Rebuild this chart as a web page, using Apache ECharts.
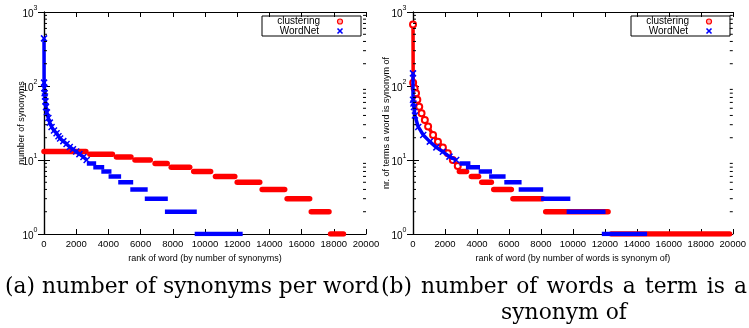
<!DOCTYPE html>
<html><head><meta charset="utf-8">
<script src="https://cdn.jsdelivr.net/npm/echarts@6/dist/echarts.min.js"></script>
<style>html,body{margin:0;padding:0;background:#fff}#c{width:749px;height:328px}</style>
</head><body><div id="c"></div>
<script>
// ---------- axis ticks ----------
const xTickMin = 0, xTickMax = 20000, xTickStep = 2000;
const yMin = 1, yMax = 1000;
const minorTickValues = [2,3,4,5,6,7,8,9,20,30,40,50,60,70,80,90,200,300,400,500,600,700,800,900];

// ---------- (a) number of synonyms per word ----------
const clusteringA_levels = [13,12,11,10,9,8,7,6,5,4,3,2,1];
const clusteringA_from   = [0,2850,4500,5650,6900,7900,9300,10650,12000,13550,15100,16600,17800];
const clusteringA_to     = [2600,4250,5400,6600,7650,9050,10350,11850,13400,14950,16500,17700,18600];

const wordnetA_curveRank  = [0,5,20,40,60,90,124,180,270,360,470,620,780,900,1000,1200,1400,1600,1800,2000,2200,2450,2650];
const wordnetA_curveValue = [440,111,93,80,72,62,52,44,37,32,28,25,23,21,19.5,18,16.5,15,14,13,12,11,10];
const wordnetA_levels = [9,8,7,6,5,4,3,2,1];
const wordnetA_from   = [2800,3200,3700,4150,4750,5500,6400,7650,9500];
const wordnetA_to     = [3100,3600,4050,4650,5400,6300,7550,9350,12200];

// ---------- (b) number of words a term is a synonym of ----------
const clusteringB_curveRank  = [0,10,100,190,270,390,535,740,945,1255,1560,1870,2180,2490,2800];
const clusteringB_curveValue = [680,111,93,80,65,52.5,42.7,34.8,28.3,21.8,17.7,14.8,12.3,10,8.3];
const clusteringB_levels = [7,6,5,4,3,2,1];
const clusteringB_from   = [2900,3650,4300,5050,6250,8300,12400];
const clusteringB_to     = [3350,4100,4900,6150,8100,12200,19800];

const wordnetB_curveRank  = [0,0,30,60,120,330,640,1050,1460,1870,2280,2700];
const wordnetB_curveValue = [148,65,58,52,40,28,21.8,17.7,14.8,12.9,11.1,10];
const wordnetB_levels = [9,8,7,6,5,4,3,2,1];
const wordnetB_from   = [3050,3450,4250,4900,5850,6750,8150,9750,11950];
const wordnetB_to     = [3450,4050,4800,5650,6650,8000,9700,11900,14500];

// ---------- text ----------
const xNameA = 'rank of word (by number of synonyms)';
const yNameA = 'number of synonyms';
const xNameB = 'rank of word (by number of words is synonym of)';
const yNameB = 'nr. of terms a word is synonym of';
const legendNames = ['clustering', 'WordNet'];
const captionA = '(a) number of synonyms per word';
const captionB1 = ['(b)','number','of','words','a','term','is','a'];
const captionB2 = 'synonym of';

const RED = '#ff0000', BLUE = '#0000ff';
const XPATH = 'path://M0,0L10,10M10,0L0,10';
const FONT = 'Liberation Sans';
const CAPFONT = '21.8px "DejaVu Serif"';

function xAxes(gi, name) {
  const common = {
    type: 'value', gridIndex: gi, min: xTickMin, max: xTickMax, interval: xTickStep,
    axisLine: { lineStyle: { color: '#000', width: 1.2 } },
    axisTick: { inside: true, length: 5, lineStyle: { color: '#000' } },
    splitLine: { show: false }
  };
  return [
    Object.assign({}, common, {
      position: 'bottom',
      axisLabel: { color: '#000', fontSize: 9.5, fontFamily: FONT, margin: 5, formatter: v => String(v) },
      name: name, nameLocation: 'middle', nameGap: 19,
      nameTextStyle: { color: '#000', fontSize: 9, fontFamily: FONT }
    }),
    Object.assign({}, common, { position: 'top', axisLabel: { show: false } })
  ];
}
function yAxes(gi, name, gap) {
  const common = {
    type: 'log', logBase: 10, gridIndex: gi, min: yMin, max: yMax,
    axisLine: { lineStyle: { color: '#000', width: 1.2 } },
    axisTick: { inside: true, length: 6, lineStyle: { color: '#000' } },
    splitLine: { show: false }, minorTick: { show: false }
  };
  return [
    Object.assign({}, common, {
      position: 'left',
      axisLabel: {
        color: '#000', margin: 6.5,
        formatter: v => '{b|10}{s|' + Math.round(Math.log10(v)) + '}',
        rich: {
          b: { fontSize: 10, fontFamily: FONT, lineHeight: 15, verticalAlign: 'bottom', color: '#000' },
          s: { fontSize: 7, fontFamily: FONT, lineHeight: 15, verticalAlign: 'top', color: '#000' }
        }
      },
      name: name, nameLocation: 'middle', nameGap: gap, nameRotate: 90, nameMoveOverlap: false,
      nameTextStyle: { color: '#000', fontSize: 9, fontFamily: FONT }
    }),
    Object.assign({}, common, { position: 'right', axisLabel: { show: false } })
  ];
}

const series = [];
function bands(name, levels, from, to, color, xi, yi, cap, width, z) {
  levels.forEach((lv, i) => {
    series.push({
      type: 'line', name: name, xAxisIndex: xi, yAxisIndex: yi, z: z,
      data: [[from[i], lv], [to[i], lv]], symbol: 'none', silent: true,
      lineStyle: { color: color, width: width, cap: cap }, itemStyle: { color: color }
    });
  });
}
function curve(name, ranks, values, color, xi, yi, symbol, z) {
  series.push({
    type: 'line', name: name, xAxisIndex: xi, yAxisIndex: yi, z: z,
    data: ranks.map((r, i) => [r, values[i]]),
    symbol: symbol, symbolSize: 6, showAllSymbol: true, silent: true,
    lineStyle: { color: color, width: 3.5 },
    itemStyle: symbol === 'emptyCircle'
      ? { color: color, borderColor: color, borderWidth: 1 }
      : { color: color, borderColor: color, borderWidth: 1.5 }
  });
}
function minorTicks(xi, yi) {
  series.push({
    type: 'custom', xAxisIndex: xi, yAxisIndex: yi, silent: true, z: 10,
    data: minorTickValues.map(v => [xTickMin, v]), encode: { x: 0, y: 1 },
    renderItem: (params, api) => {
      const L = api.coord([xTickMin, api.value(1)]);
      const R = api.coord([xTickMax, api.value(1)]);
      return { type: 'group', children: [
        { type: 'line', shape: { x1: L[0], y1: L[1], x2: L[0] + 3, y2: L[1] }, style: { stroke: '#000', lineWidth: 1 } },
        { type: 'line', shape: { x1: R[0] - 3, y1: R[1], x2: R[0], y2: R[1] }, style: { stroke: '#000', lineWidth: 1 } }
      ]};
    }
  });
}

// chart (a)
bands('clustering', clusteringA_levels, clusteringA_from, clusteringA_to, RED, 0, 0, 'round', 5.5, 2);
curve('WordNet', wordnetA_curveRank, wordnetA_curveValue, BLUE, 0, 0, XPATH, 3);
bands('WordNet', wordnetA_levels, wordnetA_from, wordnetA_to, BLUE, 0, 0, 'square', 4.5, 3);
minorTicks(0, 0);
// chart (b)
curve('clustering', clusteringB_curveRank, clusteringB_curveValue, RED, 2, 2, 'emptyCircle', 2);
bands('clustering', clusteringB_levels, clusteringB_from, clusteringB_to, RED, 2, 2, 'round', 5.5, 2);
curve('WordNet', wordnetB_curveRank, wordnetB_curveValue, BLUE, 2, 2, XPATH, 3);
bands('WordNet', wordnetB_levels, wordnetB_from, wordnetB_to, BLUE, 2, 2, 'square', 4.5, 3);
minorTicks(2, 2);

// legend boxes (drawn as graphics): box left edges per chart
const graphics = [];
[262, 631].forEach(bx => {
  graphics.push({ type: 'rect', shape: { x: bx, y: 16, width: 99, height: 20 }, style: { fill: 'none', stroke: '#000', lineWidth: 1 }, z: 5 });
  graphics.push({ type: 'text', x: bx + 58, y: 21.5, style: { text: legendNames[0], font: '10px "' + FONT + '"', fill: '#000', align: 'right', verticalAlign: 'middle' }, z: 5 });
  graphics.push({ type: 'text', x: bx + 57, y: 31, style: { text: legendNames[1], font: '10px "' + FONT + '"', fill: '#000', align: 'right', verticalAlign: 'middle' }, z: 5 });
  graphics.push({ type: 'circle', shape: { cx: bx + 78, cy: 21.5, r: 2.5 }, style: { fill: '#ffb0b0', stroke: RED, lineWidth: 1.2 }, z: 5 });
  graphics.push({ type: 'polyline', shape: { points: [[bx + 75.5, 28.5], [bx + 80.5, 33.5]] }, style: { stroke: BLUE, lineWidth: 1.6 }, z: 5 });
  graphics.push({ type: 'polyline', shape: { points: [[bx + 80.5, 28.5], [bx + 75.5, 33.5]] }, style: { stroke: BLUE, lineWidth: 1.6 }, z: 5 });
});

// captions
graphics.push({ type: 'text', x: 5, y: 287, style: { text: captionA, font: CAPFONT, fill: '#000', verticalAlign: 'middle' } });
(function () {
  const ctx = document.createElement('canvas').getContext('2d');
  ctx.font = CAPFONT;
  const widths = captionB1.map(w => ctx.measureText(w).width);
  const left = 381, right = 747;
  const gap = (right - left - widths.reduce((a, b) => a + b, 0)) / (captionB1.length - 1);
  let x = left;
  captionB1.forEach((w, i) => {
    graphics.push({ type: 'text', x: x, y: 287, style: { text: w, font: CAPFONT, fill: '#000', verticalAlign: 'middle' } });
    x += widths[i] + gap;
  });
  graphics.push({ type: 'text', x: (left + right) / 2, y: 313, style: { text: captionB2, font: CAPFONT, fill: '#000', align: 'center', verticalAlign: 'middle' } });
})();

const chart = echarts.init(document.getElementById('c'), null, { renderer: 'canvas' });
chart.setOption({
  animation: false,
  backgroundColor: '#fff',
  grid: [
    { left: 44, top: 12, width: 322, height: 222 },
    { left: 413, top: 12, width: 322, height: 222 }
  ],
  xAxis: xAxes(0, xNameA).concat(xAxes(1, xNameB)),
  yAxis: yAxes(0, yNameA, 18).concat(yAxes(1, yNameB, 22)),
  series: series,
  graphic: graphics
});
</script></body></html>
